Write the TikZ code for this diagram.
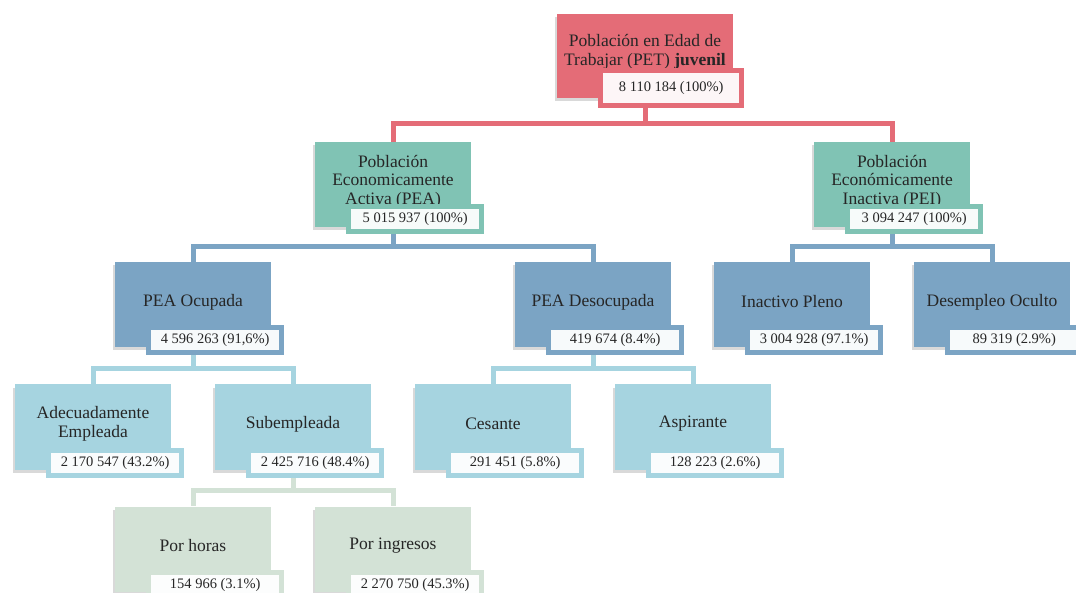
\documentclass[tikz,border=0pt]{standalone}
\usepackage{fontspec}
\setmainfont{Liberation Serif}
\usetikzlibrary{calc,shadows,backgrounds}
\definecolor{petcol}{HTML}{E46C77}
\definecolor{peacol}{HTML}{80C3B4}
\definecolor{ocucol}{HTML}{7BA4C4}
\definecolor{adecol}{HTML}{A6D4E0}
\definecolor{horcol}{HTML}{D3E2D6}
\colorlet{txtcol}{black!85}
\tikzstyle{box}=[rectangle,minimum width=156pt,minimum height=85pt,
  drop shadow={shadow xshift=-2pt,shadow yshift=-3pt,opacity=.3}]
\tikzstyle{lbl}=[align=center,text=txtcol,font=\fontsize{17.5}{18.5}\selectfont]
\tikzstyle{num}=[rectangle,line width=5pt,outer sep=0pt,inner sep=0pt,
  minimum width=133pt,minimum height=25pt,anchor=south east,
  text=txtcol,font=\fontsize{14.5}{16}\selectfont]
\tikzstyle{link}=[line width=5pt]

\begin{document}
\begin{tikzpicture}[x=1pt,y=-1pt]
  \clip (0,0) rectangle (1076,593);
  % Boxes
  \node[box,fill=petcol,minimum width=176pt,minimum height=84pt] (pet) at (645,56) {};
  \node[box,fill=peacol] (pea) at (393,184.5) {};
  \node[box,fill=peacol] (pei) at (892,184.5) {};
  \node[box,fill=ocucol] (ocu) at (193,305) {};
  \node[box,fill=ocucol] (des) at (593,305) {};
  \node[box,fill=ocucol] (ina) at (792,305) {};
  \node[box,fill=ocucol] (ocl) at (992,305) {};
  \node[box,fill=adecol] (ade) at (93,427) {};
  \node[box,fill=adecol] (sub) at (293,427) {};
  \node[box,fill=adecol] (ces) at (493,427) {};
  \node[box,fill=adecol] (asp) at (693,427) {};
  \node[box,fill=horcol] (hor) at (193,549) {};
  \node[box,fill=horcol] (ing) at (393,549) {};
  % Labels
  \node[lbl] (pet-l) at ([yshift=4pt]pet.center) {Población en Edad de\\Trabajar (PET) \textbf{juvenil}};
  \node[lbl] (pea-l) at ([yshift=3pt]pea.center) {Población\\Economicamente\\Activa (PEA)};
  \node[lbl] (pei-l) at ([yshift=3pt]pei.center) {Población\\Económicamente\\Inactiva (PEI)};
  \node[lbl] (ocu-l) at ([yshift=3pt]ocu.center) {PEA Ocupada};
  \node[lbl] (des-l) at ([yshift=3pt]des.center) {PEA Desocupada};
  \node[lbl] (ina-l) at ([yshift=3pt]ina.center) {Inactivo Pleno};
  \node[lbl] (ocl-l) at ([yshift=3pt]ocl.center) {Desempleo Oculto};
  \node[lbl] (ade-l) at ([yshift=3pt]ade.center) {Adecuadamente\\Empleada};
  \node[lbl] (sub-l) at ([yshift=3pt]sub.center) {Subempleada};
  \node[lbl] (ces-l) at ([yshift=3pt]ces.center) {Cesante};
  \node[lbl] (asp-l) at ([yshift=3pt]asp.center) {Aspirante};
  \node[lbl] (hor-l) at ([yshift=3pt]hor.center) {Por horas};
  \node[lbl] (ing-l) at ([yshift=3pt]ing.center) {Por ingresos};
  % Figures
  \node[num,draw=petcol,fill=petcol!6,minimum width=141pt,minimum height=35pt]
    (pet-n) at ($(pet.south east)+(8.5,7.5)$) {8 110 184 (100\%)};
  \node[num,draw=peacol,fill=peacol!6] (pea-n) at ($(pea.south east)+(10.5,4.5)$) {5 015 937 (100\%)};
  \node[num,draw=peacol,fill=peacol!6] (pei-n) at ($(pei.south east)+(10.5,4.5)$) {3 094 247 (100\%)};
  \node[num,draw=ocucol,fill=ocucol!6] (ocu-n) at ($(ocu.south east)+(10.5,4.5)$) {4 596 263 (91,6\%)};
  \node[num,draw=ocucol,fill=ocucol!6] (des-n) at ($(des.south east)+(10.5,4.5)$) {419 674 (8.4\%)};
  \node[num,draw=ocucol,fill=ocucol!6] (ina-n) at ($(ina.south east)+(10.5,4.5)$) {3 004 928 (97.1\%)};
  \node[num,draw=ocucol,fill=ocucol!6] (ocl-n) at ($(ocl.south east)+(10.5,4.5)$) {89 319 (2.9\%)};
  \node[num,draw=adecol,fill=adecol!6] (ade-n) at ($(ade.south east)+(10.5,5.5)$) {2 170 547 (43.2\%)};
  \node[num,draw=adecol,fill=adecol!6] (sub-n) at ($(sub.south east)+(10.5,5.5)$) {2 425 716 (48.4\%)};
  \node[num,draw=adecol,fill=adecol!6] (ces-n) at ($(ces.south east)+(10.5,5.5)$) {291 451 (5.8\%)};
  \node[num,draw=adecol,fill=adecol!6] (asp-n) at ($(asp.south east)+(10.5,5.5)$) {128 223 (2.6\%)};
  \node[num,draw=horcol,fill=horcol!6] (hor-n) at ($(hor.south east)+(10.5,5.5)$) {154 966 (3.1\%)};
  \node[num,draw=horcol,fill=horcol!6] (ing-n) at ($(ing.south east)+(10.5,5.5)$) {2 270 750 (45.3\%)};
  % Links, behind the boxes
  \begin{scope}[on background layer]
    \draw[link,petcol] (pet.south) |- ($(pet-n.south)!.5!(pea.north)$) -| (pea.north);
    \draw[link,petcol] (pet.south) |- ($(pet-n.south)!.5!(pei.north)$) -| (pei.north);
    \draw[link,ocucol] (pea.south) |- ($(pea-n.south)!.5!(ocu.north)$) -| (ocu.north);
    \draw[link,ocucol] (pea.south) |- ($(pea-n.south)!.5!(des.north)$) -| (des.north);
    \draw[link,ocucol] (pei.south) |- ($(pei-n.south)!.5!(ina.north)$) -| (ina.north);
    \draw[link,ocucol] (pei.south) |- ($(pei-n.south)!.5!(ocl.north)$) -| (ocl.north);
    \draw[link,adecol] (ocu.south) |- ($(ocu-n.south)!.5!(ade.north)$) -| (ade.north);
    \draw[link,adecol] (ocu.south) |- ($(ocu-n.south)!.5!(sub.north)$) -| (sub.north);
    \draw[link,adecol] (des.south) |- ($(des-n.south)!.5!(ces.north)$) -| (ces.north);
    \draw[link,adecol] (des.south) |- ($(des-n.south)!.5!(asp.north)$) -| (asp.north);
    \draw[link,horcol] (sub.south) |- ($(sub-n.south)!.5!(hor.north)$) -| (hor.north);
    \draw[link,horcol] (sub.south) |- ($(sub-n.south)!.5!(ing.north)$) -| (ing.north);
  \end{scope}
\end{tikzpicture}
\end{document}
